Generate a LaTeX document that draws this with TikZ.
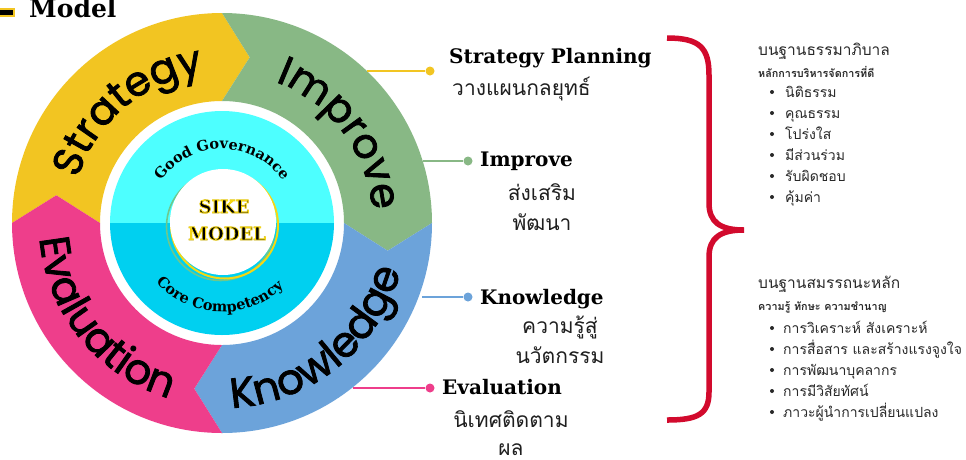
\documentclass[tikz,border=0pt]{standalone}
\usepackage{fontspec}
\setmainfont{DejaVu Serif}
\newfontfamily\thaif[Script=Thai]{Loma}
\newfontfamily\ringf{Poppins}[FakeBold=2]
\newfontfamily\slabf{DejaVu Serif}
\usetikzlibrary{decorations.text,calc}
\definecolor{segY}{RGB}{242,197,34}
\definecolor{segG}{RGB}{136,184,133}
\definecolor{segB}{RGB}{108,163,218}
\definecolor{segP}{RGB}{238,62,139}
\definecolor{cyanT}{RGB}{77,255,255}
\definecolor{cyanB}{RGB}{0,208,240}
\definecolor{braceR}{RGB}{210,10,45}
\definecolor{txtg}{RGB}{40,40,40}
\definecolor{ringY}{RGB}{245,215,20}
\definecolor{ringG}{RGB}{110,200,140}
\newcommand\ringseg[2]{\fill[#2] (#1:210) arc[start angle=#1, end angle=#1-90, radius=210] -- (#1-99.5:168) -- (#1-90:122) arc[start angle=#1-90, end angle=#1, radius=122] -- (#1-9.5:168) -- cycle;}
\newcommand\youtline[1]{\special{pdf:literal direct 0.96 0.84 0.08 RG 0.8 w 2 Tr}#1\special{pdf:literal direct 0 Tr}}
\begin{document}
\begin{tikzpicture}[x=1pt,y=1pt,
  dot/.style={circle,inner sep=0pt,minimum size=9pt},
  conn/.style={line width=2pt},
  lab/.style={font=\slabf\bfseries\fontsize{20}{22}\selectfont,inner sep=0pt,text=black},
  th/.style={font=\thaif\fontsize{21}{23}\selectfont,inner sep=0pt,text=black!88},
  rhead/.style={font=\thaif\fontsize{15.5}{18}\selectfont,inner sep=0pt,text=txtg,anchor=base west},
  rsub/.style={font=\thaif\bfseries\fontsize{10.8}{13}\selectfont,inner sep=0pt,text=txtg,anchor=base west},
  ritem/.style={font=\thaif\fontsize{14}{16}\selectfont,inner sep=0pt,text=txtg,anchor=base west},
  bul/.style={circle,fill=txtg,inner sep=0pt,minimum size=4pt}]
\useasboundingbox (0,0) rectangle (966,-459);
\clip (0,0) rectangle (966,-459);
\fill[white] (0,0) rectangle (966,-459);

% title
\fill[black,draw=segY,line width=1.5pt] (-5,-9) rectangle (14,-16);
\node[font=\slabf\bfseries\fontsize{25}{27}\selectfont,inner sep=0pt,anchor=base west] (title) at (29,-17) {Model};

\begin{scope}[shift={(222,-223)}]
  \ringseg{180}{segY}
  \ringseg{90}{segG}
  \ringseg{0}{segB}
  \ringseg{-90}{segP}
  % ring labels
  \path[decorate,decoration={text along path,text align=center,
     text={|\ringf\fontsize{41}{41}\selectfont|Strategy}}]
     (200:151) arc[start angle=200,end angle=60,radius=151];
  \path[decorate,decoration={text along path,text align=center,
     text={|\ringf\fontsize{41}{41}\selectfont|Improve}}]
     (107:151) arc[start angle=107,end angle=-33,radius=151];
  \path[decorate,decoration={text along path,text align=center,
     text={|\ringf\fontsize{42}{42}\selectfont|Knowledge}}]
     (-121:185) arc[start angle=-121,end angle=19,radius=185];
  \path[decorate,decoration={text along path,text align=center,
     text={|\ringf\fontsize{42}{42}\selectfont|Evaluation}}]
     (149:183) arc[start angle=149,end angle=289,radius=183];
  % inner disc
  \fill[cyanT] (112,0) arc[start angle=0,end angle=180,radius=112] -- cycle;
  \fill[cyanB] (-112,0) arc[start angle=180,end angle=360,radius=112] -- cycle;
  \path[decorate,decoration={text along path,text align=center,
     text={|\slabf\bfseries\fontsize{14.5}{14.5}\selectfont|Good Governance}}]
     (180:74) arc[start angle=180,end angle=0,radius=74];
  \path[decorate,decoration={text along path,text align=center,
     text={|\slabf\bfseries\fontsize{14.5}{14.5}\selectfont|Core Competency}}]
     (178:89) arc[start angle=178,end angle=358,radius=89];
  % centre
  \draw[ringG,line width=1.6pt] (-1.5,-3.5) circle (54);
  \draw[ringY,line width=2pt] (2.5,-2) circle (53.5);
  \fill[white] (1,1) circle (53);
\end{scope}
\node[font=\slabf\bfseries\fontsize{18}{20}\selectfont,inner sep=0pt,anchor=base] (sike) at (224,-213) {\youtline{SIKE}};
\node[font=\slabf\bfseries\fontsize{18}{20}\selectfont,inner sep=0pt,anchor=base] (model) at (227,-240) {\youtline{MODEL}};

% connectors
\node[dot,fill=segY] (dS) at (430,-71) {};
\coordinate (eS) at (367,-71);
\draw[conn,segY] (eS) -- (dS);
\node[dot,fill=segG] (dI) at (468,-161) {};
\coordinate (eI) at (423,-161);
\draw[conn,segG] (eI) -- (dI);
\node[dot,fill=segB] (dK) at (468,-297) {};
\coordinate (eK) at (422,-297);
\draw[conn,segB] (eK) -- (dK);
\node[dot,fill=segP] (dE) at (430,-388) {};
\coordinate (eE) at (353,-388);
\draw[conn,segP] (eE) -- (dE);

% labels
\node[lab,anchor=base west] (tS) at (449,-63) {Strategy Planning};
\node[th,anchor=base west] (sS) at (452,-95) {วางแผนกลยุทธ์};
\node[lab,anchor=base west] (tI) at (480,-166) {Improve};
\node[th,anchor=base] (sI1) at (542,-200) {ส่งเสริม};
\node[th,anchor=base] (sI2) at (542,-230) {พัฒนา};
\node[lab,anchor=base west] (tK) at (480,-304) {Knowledge};
\node[th,anchor=base] (sK1) at (560,-333) {ความรู้สู่};
\node[th,anchor=base] (sK2) at (560,-363) {นวัตกรรม};
\node[lab,anchor=base west] (tE) at (442,-394) {Evaluation};
\node[th,anchor=base] (sE1) at (511,-427) {นิเทศติดตาม};
\node[th,anchor=base] (sE2) at (511,-455) {ผล};

% brace
\draw[braceR,line width=5.5pt,line join=miter]
  (667,-38) .. controls (700,-38) and (709,-48) .. (709,-75) -- (709,-203)
  .. controls (709,-222) and (720,-230) .. (744,-230)
  .. controls (720,-230) and (709,-238) .. (709,-257) -- (709,-392)
  .. controls (709,-414) and (698,-420) .. (667,-420);

% right block 1
\node[rhead] (h1) at (758,-55) {บนฐานธรรมาภิบาล};
\node[rsub] (h1s) at (758,-77) {หลักการบริหารจัดการที่ดี};
\foreach \t [count=\i] in {นิติธรรม,คุณธรรม,โปร่งใส,มีส่วนร่วม,รับผิดชอบ,คุ้มค่า}{
  \node[ritem] (a\i) at (785,{-97-21*(\i-1)}) {\t};
  \node[bul] (ab\i) at (772,{-92-21*(\i-1)}) {};
}
% right block 2
\node[rhead] (h2) at (758,-288) {บนฐานสมรรถนะหลัก};
\node[rsub] (h2s) at (758,-310) {ความรู้ ทักษะ ความชำนาญ};
\foreach \t [count=\i] in {การวิเคราะห์ สังเคราะห์,การสื่อสาร และสร้างแรงจูงใจ,การพัฒนาบุคลากร,การมีวิสัยทัศน์,ภาวะผู้นำการเปลี่ยนแปลง}{
  \node[ritem] (b\i) at (783,{-333-21*(\i-1)}) {\t};
  \node[bul] (bb\i) at (772,{-328-21*(\i-1)}) {};
}
\end{tikzpicture}
\end{document}
